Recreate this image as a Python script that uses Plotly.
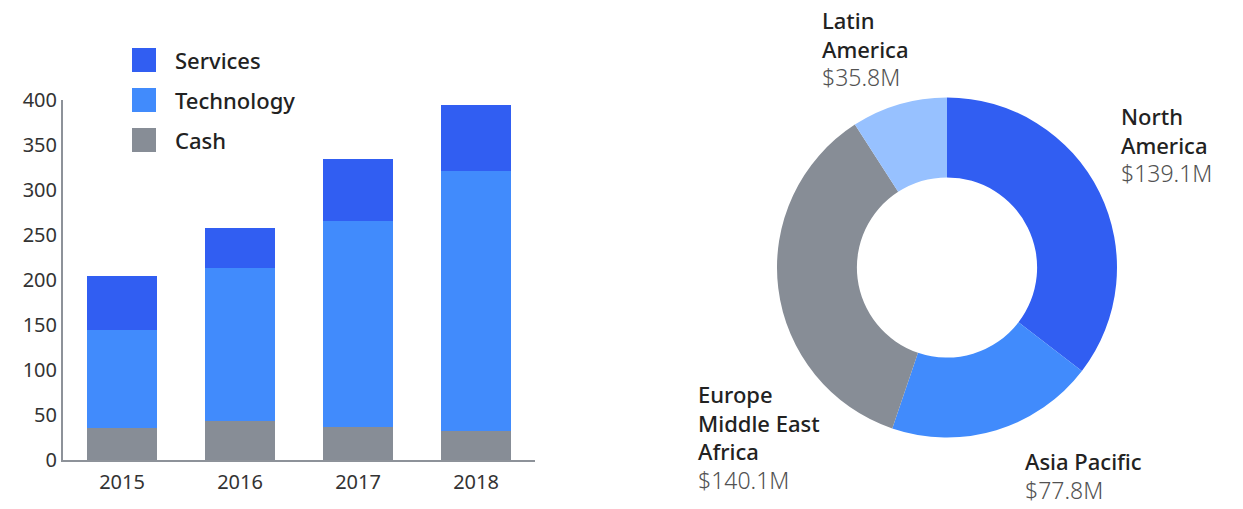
import plotly.graph_objects as go

# ---- data ----
years = ["2015", "2016", "2017", "2018"]
cash = [36, 43, 37, 32]
technology = [108, 170, 229, 289]
services = [61, 45, 68, 73]
series_names = ["Services", "Technology", "Cash"]

regions = ["North America", "Asia Pacific", "Europe Middle East Africa", "Latin America"]
region_values = [139.1, 77.8, 140.1, 35.8]
region_label_lines = [["North", "America"], ["Asia Pacific"], ["Europe", "Middle East", "Africa"], ["Latin", "America"]]

y_ticks = [0, 50, 100, 150, 200, 250, 300, 350, 400]

# ---- styles ----
C_SERV = "#315ef2"
C_TECH = "#418bfc"
C_CASH = "#878d96"
C_LATAM = "#97c1ff"
FONT = "Noto Sans"
W, H = 1243, 509

fig = go.Figure()
fig.add_trace(go.Bar(x=years, y=cash, name="Cash", marker_color=C_CASH, marker_line_width=0, showlegend=False))
fig.add_trace(go.Bar(x=years, y=technology, name="Technology", marker_color=C_TECH, marker_line_width=0, showlegend=False))
fig.add_trace(go.Bar(x=years, y=services, name="Services", marker_color=C_SERV, marker_line_width=0, showlegend=False))

fig.add_trace(go.Pie(
    labels=regions, values=region_values, sort=False, direction="clockwise", rotation=0,
    hole=0.53, textinfo="none", showlegend=False, automargin=False,
    marker=dict(colors=[C_SERV, C_TECH, C_CASH, C_LATAM], line=dict(width=0)),
    domain=dict(x=[777 / W, 1117 / W], y=[1 - 438 / H, 1 - 97 / H]),
))

def px(x):
    return x / W

def py(y):
    return 1 - y / H

shapes = []
annotations = []
# legend (manual, large squares)
leg_colors = {"Services": C_SERV, "Technology": C_TECH, "Cash": C_CASH}
for i, name in enumerate(series_names):
    cy = 60 + 40 * i
    shapes.append(dict(type="rect", xref="paper", yref="paper", x0=px(132), x1=px(156),
                       y0=py(cy + 12), y1=py(cy - 12), fillcolor=leg_colors[name], line=dict(width=0)))
    annotations.append(dict(xref="paper", yref="paper", x=px(173), y=py(cy), text=name, showarrow=False,
                            xanchor="left", yanchor="middle",
                            font=dict(family=FONT, size=22, color="#222222", weight=500)))

# donut labels (top of text block, in pixels)
label_pos = {
    "North America": (1119, 99),
    "Asia Pacific": (1023, 444),
    "Europe Middle East Africa": (696, 377),
    "Latin America": (820, 3),
}
for reg, val, lines in zip(regions, region_values, region_label_lines):
    x0, y0 = label_pos[reg]
    value_txt = f"<span style='font-weight:300;fill:#525252;font-size:23px'>${val:.1f}M</span>"
    text = "<br>".join(lines + [value_txt])
    annotations.append(dict(xref="paper", yref="paper", x=px(x0), y=py(y0), text=text,
                            showarrow=False, xanchor="left", yanchor="top", align="left",
                            font=dict(family=FONT, size=22, color="#222222", weight=500)))

fig.update_layout(
    width=W, height=H, autosize=False, margin=dict(l=0, r=0, t=0, b=0, pad=0, autoexpand=False),
    paper_bgcolor="white", plot_bgcolor="white",
    barmode="stack", bargap=0.4,
    shapes=shapes, annotations=annotations,
    xaxis=dict(domain=[63 / W, 535 / W], showline=True, linecolor="#8d9299", linewidth=2, automargin=False,
               ticks="", showgrid=False, ticklabelstandoff=3,
               tickfont=dict(family=FONT, size=20, color="#333333")),
    yaxis=dict(domain=[1 - 460 / H, 1 - 100 / H], range=[0, 400], tickvals=y_ticks, automargin=False,
               showline=True, linecolor="#8d9299", linewidth=2, ticks="", showgrid=False,
               zeroline=False, tickfont=dict(family=FONT, size=20, color="#333333")),
)

fig.write_html("out.html", config={"displayModeBar": False},
               post_script="document.body.style.margin='0';document.body.style.overflow='hidden';")
